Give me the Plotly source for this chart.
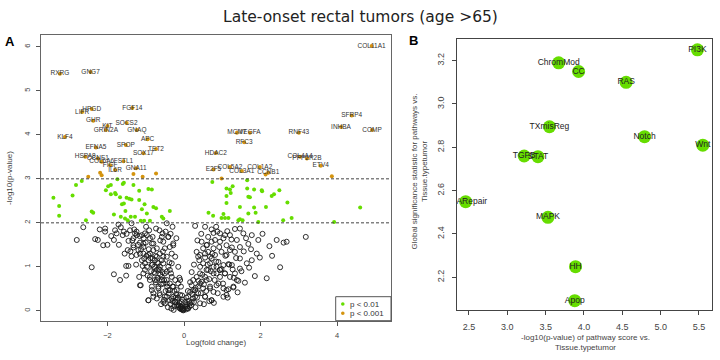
import plotly.graph_objects as go

# ---------------- Panel A data (volcano) ----------------
# labelled genes, p < 0.001 (orange)
gene_names = ["RXRG", "GNG7", "HPGD", "LIFR", "FGF14", "GHR", "KIT", "SOCS2", "GRIN2A", "GNAQ",
              "KLF4", "APC", "EFNA5", "SPOP", "TET2", "SOX17", "HSPA8", "CCNE1", "COL6A6", "FSTL1",
              "FIGF", "IL6R", "GNA11",
              "COL11A1", "SFRP4", "INHBA", "COMP", "MCM7", "VEGFA", "RFC3", "RNF43", "HDAC2",
              "COL4A4", "PPP2R2B", "ETV4", "E2F5", "COL5A2", "COL1A2", "COL3A1", "CCNB1"]
gene_fc = [-3.24, -2.44, -2.41, -2.66, -1.35, -2.37, -2.00, -1.50, -2.04, -1.23,
           -3.11, -0.95, -2.30, -1.52, -0.73, -1.06, -2.58, -2.25, -2.15, -1.58,
           -1.93, -1.80, -1.25,
           4.90, 4.38, 4.10, 4.91, 1.38, 1.72, 1.57, 3.00, 0.83,
           3.03, 3.21, 3.57, 0.77, 1.20, 1.98, 1.51, 2.20]
gene_logp = [5.39, 5.43, 4.59, 4.52, 4.61, 4.32, 4.20, 4.27, 4.11, 4.11,
             3.95, 3.90, 3.71, 3.77, 3.68, 3.58, 3.50, 3.46, 3.39, 3.40,
             3.31, 3.20, 3.24,
             6.02, 4.44, 4.18, 4.11, 4.05, 4.05, 3.83, 4.05, 3.59,
             3.50, 3.46, 3.30, 3.21, 3.27, 3.27, 3.18, 3.14]

# unlabelled p < 0.001
orange_fc = [-2.50, -2.19, -2.15, -1.32, -1.08, -0.73, 3.86, 0.98, 2.13]
orange_logp = [3.05, 3.14, 3.08, 3.11, 3.05, 3.12, 3.06, 3.01, 3.10]

# p < 0.01 (green)
green_fc = [-3.41, -3.26, -3.26, -2.91, -2.82, -2.67, -2.56, -2.41, -2.37, -2.04, -1.98, -1.91,
            -1.91, -1.80, -1.78, -1.74, -1.67, -1.60, -1.57, -1.62, -1.57, -1.83, -1.65, -1.53,
            -1.50, -1.43, -1.37, -1.32, -1.54, -1.47, -1.39, -1.28, -1.17, -1.17, -1.13, -1.04,
            -1.10, -1.03, -0.97, -0.93, -0.84, -0.89, -0.80, -0.73, -0.58, -0.54, -0.37,
            0.74, 1.11, 1.11, 1.20, 1.27, 1.22, 1.65, 1.65, 1.83, 2.03, 2.04, 1.68, 1.72, 2.29,
            2.35, 2.49, 2.70, 1.11, 1.46, 1.83, 2.14, 0.64, 0.76, 1.03, 0.98, 1.07, 1.16, 1.42,
            1.46, 1.53, 1.68, 1.87, 1.94, 2.59, 2.81, 3.92, 4.60]
green_logp = [2.57, 2.38, 2.16, 2.62, 2.86, 2.95, 2.06, 2.26, 2.23, 2.74, 2.83, 2.86,
              2.65, 2.68, 2.65, 2.99, 2.58, 2.88, 2.91, 2.42, 2.44, 2.19, 2.14, 2.27,
              2.57, 2.55, 2.53, 2.86, 2.10, 2.06, 2.14, 2.14, 2.52, 2.73, 2.05, 2.05,
              2.31, 2.42, 2.21, 2.77, 2.76, 2.05, 2.36, 2.33, 2.14, 2.10, 2.27,
              2.93, 2.78, 2.61, 2.76, 2.83, 2.68, 2.97, 2.78, 2.76, 2.74, 2.72, 2.59, 2.58, 2.61,
              2.65, 2.74, 2.46, 2.45, 2.36, 2.35, 2.36, 2.23, 2.16, 2.20, 2.11, 2.11, 2.11, 2.06,
              2.08, 2.06, 2.21, 2.23, 2.02, 2.06, 2.11, 2.02, 2.35]

# not significant (open black circles)
bg_fc = [-2.63, -2.80, -2.41, -2.32, -2.25, -2.11, -2.06, -2.06, -1.83, -1.80, -1.76, -1.71,
         -1.83, -1.67, -1.51, -1.45, -1.51, -1.60, -1.57, -1.45, -1.47, -1.41, -1.37, -1.32,
         -1.28, -1.24, -1.19, -1.15, -1.17, -1.13, -1.06, -1.06, -1.04, -0.97, -0.93, -0.97,
         -0.91, -0.89, -0.84, -0.80, -0.82, -0.78, -0.76, -0.71, -0.67, -0.64, -0.71, -0.63,
         -0.58, -0.54, -0.50, -0.45, -0.41, -0.37, -0.32, -0.28, -0.23, -0.30, -0.50, -0.45,
         -0.41, -0.37, -0.32, -0.28, -0.23, -0.19, -0.15, -0.10, -0.06, -0.02, -0.58, -0.54,
         -0.63, -0.84, -0.89, -0.71, -0.80, -0.19, -0.15, -0.23, -0.10, -0.06, -0.28, -0.37,
         -0.45, -0.50, -0.71, -0.67, -0.76, -0.89, -0.93, -1.02, -1.10, -1.24, -1.32, -1.37,
         -0.56, -0.64, -0.73, -0.99, -1.10, -0.82, -0.41, -0.37, -0.45, -0.54, -0.10,
         -1.24, -1.02, -1.32, -1.06, -0.80, -0.58, -0.41, -0.28, -1.15, -0.93, -0.71, -0.54,
         -0.32, -1.02, -0.84, -0.63, -0.45, -1.06, -0.89, -0.76, -0.58, -0.45, -0.37, -0.67,
         -0.84, -0.80, -0.63, -0.50, -0.32, -0.23, -0.15, -0.10, -0.02, -0.93, -0.54, -1.15,
         -0.35, -0.30, -0.26, -0.22, -0.18, -0.12, -0.08, -0.04, -0.40, -0.44, -0.48, -0.52,
         -0.56, -0.60, -0.62, -0.66, -0.68, -0.70, -0.74, -0.75, -0.78, -0.82, -0.86, -0.88,
         -0.92, -0.95, -0.98, -1.00, -1.05, -1.08, -1.12, -1.16, -1.20, -1.25, -1.30, -1.35,
         -1.40, -1.50, -1.55, -1.65, -1.70, -1.90, -2.00, -2.20, -0.38, -0.34, -0.30, -0.25,
         -0.20, -0.16, -0.52, -0.60, -0.42, -0.33, -0.27, -0.55, -0.62, -0.48, -0.35, -0.20,
         -0.15, -0.12, -0.08, -0.05, -0.03,
         0.29, 0.55, 0.72, 0.84, 0.87, 0.77, 1.13, 1.33, 1.46, 1.77, 1.94, 1.68,
         1.62, 2.42, 2.68, 3.18, 2.23, 1.98, 1.46, 1.20, 1.25, 0.98, 0.77, 0.46,
         0.50, 0.63, 0.37, 0.55, 0.72, 0.90, 1.03, 1.16, 1.27, 2.51, 1.85, 2.16,
         1.59, 1.42, 1.29, 1.11, 1.16, 1.03, 0.94, 0.77, 0.59, 0.42, 0.33, 0.24,
         0.20, 0.42, 0.59, 0.68, 0.77, 0.72, 0.55, 0.37, 0.24, 0.16, 0.07, -0.02,
         0.42, 0.29, 0.50, 0.85, 0.94, 1.07, 0.85, 0.68, 0.50, 1.33, 1.20, 1.64,
         1.46, 1.77, 1.33, 1.11, 1.03, 0.94, 0.72, 0.63, 1.46, 1.38, 1.55, 1.07,
         0.81, 0.55, 0.33, 0.16, 0.11, 0.03,
         0.11, 0.20, 0.29, 0.24, 0.37, 0.46, 0.55, 0.42, 0.63, 0.77, 0.85, 0.94,
         1.07, 0.68, 0.42, 0.59, 0.81, 0.94, 1.20, 1.11, 1.25, 1.38, 0.90, 0.68,
         0.55, 0.72, 1.11, 1.03, 1.29, 0.05, 0.09, 0.14, -0.05, -0.08, -0.12,
         0.04, 0.08, 0.12, 0.18, 0.22, 0.26, 0.30, 0.34, 0.38, 0.44, 0.48, 0.52,
         0.58, 0.62, 0.66, 0.70, 0.74, 0.80, 0.84, 0.88, 0.92, 0.98, 1.02, 1.08,
         1.14, 1.18, 1.24, 1.30, 1.36, 1.40, 1.50, 1.56, 1.70, 1.75, 1.90, 2.05,
         2.30, 2.60, 0.26, 0.20, 0.16, 0.10, 0.06, 0.35, 0.45, 0.60, 0.40, 0.52,
         0.30, 0.66, 0.78]
bg_logp = [1.90, 1.61, 0.99, 1.63, 1.61, 1.49, 1.80, 1.87, 1.61, 1.83, 1.76, 1.96,
           0.83, 0.70, 1.02, 1.02, 0.80, 1.72, 1.80, 1.59, 1.38, 1.83, 1.99, 1.44,
           1.76, 1.80, 1.38, 1.55, 0.77, 0.58, 1.53, 1.30, 1.19, 1.00, 0.24, 1.72,
           1.83, 1.65, 1.53, 1.38, 1.19, 1.00, 0.85, 0.70, 0.55, 0.40, 1.42, 1.30,
           1.15, 1.57, 1.42, 1.99, 1.00, 0.93, 1.30, 1.53, 1.23, 1.91, 0.17, 0.32,
           0.47, 0.62, 0.77, 0.32, 0.20, 0.13, 0.09, 0.05, 0.03, 0.01, 0.77, 0.62,
           0.93, 0.47, 0.70, 0.28, 0.32, 0.47, 0.62, 0.70, 0.36, 0.20, 0.55, 0.24,
           0.70, 0.85, 0.93, 1.08, 1.15, 1.30, 1.15, 0.93, 1.15, 1.27, 1.65, 1.24,
           1.76, 1.83, 1.87, 1.91, 1.72, 1.68, 1.68, 1.45, 1.23, 1.08, 0.70,
           1.72, 1.76, 1.49, 1.45, 1.53, 1.68, 1.68, 1.49, 1.30, 1.27, 1.23, 1.23,
           1.08, 1.08, 1.04, 1.00, 0.89, 0.85, 0.77, 0.70, 0.70, 0.62, 0.47, 0.51,
           0.55, 0.40, 0.36, 0.32, 0.28, 0.20, 0.13, 0.05, 0.02, 0.24, 0.20, 0.58,
           0.15, 0.22, 0.10, 0.30, 0.25, 0.18, 0.10, 0.06, 0.40, 0.55, 0.45, 0.70,
           0.88, 0.60, 0.82, 0.95, 0.75, 1.10, 0.65, 1.25, 0.88, 1.05, 0.90, 1.20,
           1.40, 0.80, 1.25, 1.55, 1.65, 1.02, 1.40, 1.70, 1.50, 1.05, 1.85, 1.60,
           1.35, 1.75, 1.30, 1.90, 1.50, 1.70, 1.50, 1.85, 1.10, 0.85, 0.55, 0.45,
           0.38, 0.30, 0.25, 0.15, 0.08, 0.05, 0.02, 1.35, 1.60, 1.80, 1.75, 1.65,
           1.00, 0.75, 0.55, 0.35, 0.25,
           1.93, 1.91, 1.85, 1.91, 1.80, 1.77, 1.81, 1.86, 1.87, 1.72, 1.61, 1.52,
           1.65, 1.61, 1.57, 1.68, 1.47, 1.21, 1.19, 1.38, 1.44, 1.34, 1.42, 1.57,
           1.42, 1.34, 1.23, 1.21, 1.19, 1.11, 1.04, 1.06, 0.94, 0.99, 0.79, 0.74,
           0.64, 0.68, 0.53, 0.36, 0.49, 0.51, 0.77, 0.85, 0.93, 1.00, 0.77, 0.70,
           0.58, 0.62, 0.70, 0.55, 0.43, 0.24, 0.32, 0.40, 0.28, 0.17, 0.09, 0.05,
           0.17, 0.47, 0.51, 0.58, 0.93, 0.85, 1.00, 1.08, 1.08, 0.85, 0.77, 1.08,
           0.96, 1.15, 1.34, 1.49, 1.65, 1.57, 1.57, 1.68, 1.45, 1.61, 1.76, 1.72,
           1.27, 1.30, 1.34, 0.43, 0.32, 0.20,
           0.05, 0.20, 0.32, 0.47, 0.55, 0.66, 0.77, 0.85, 0.93, 1.00, 0.85, 0.93,
           0.85, 1.23, 1.27, 1.49, 1.61, 1.76, 1.72, 1.27, 1.04, 0.70, 0.62, 0.51,
           0.32, 0.24, 0.47, 0.32, 0.55, 0.03, 0.06, 0.10, 0.04, 0.08, 0.12,
           0.10, 0.15, 0.22, 0.12, 0.38, 0.20, 0.52, 0.30, 0.68, 0.40, 0.82, 0.60,
           0.45, 1.05, 0.72, 0.90, 1.30, 0.70, 1.12, 0.40, 1.45, 0.95, 0.62, 1.25,
           0.30, 1.05, 1.62, 0.75, 1.20, 0.42, 0.90, 1.35, 0.98, 1.40, 1.30, 1.75,
           1.25, 1.55, 1.05, 0.88, 0.65, 0.45, 0.30, 1.60, 1.75, 1.50, 1.15, 0.15,
           0.08, 0.22, 0.18]

# ---------------- Panel B data (pathways) ----------------
pathways = ["ChromMod", "CC", "RAS", "PI3K", "TXmisReg", "Notch", "Wnt", "TGFB", "STAT",
            "DNARepair", "MAPK", "HH", "Apop"]
path_score = [3.67, 3.93, 4.55, 5.48, 3.55, 4.79, 5.55, 3.22, 3.40, 2.457, 3.53, 3.89, 3.88]
path_global = [3.19, 3.15, 3.10, 3.25, 2.895, 2.849, 2.81, 2.76, 2.757, 2.549, 2.477, 2.249, 2.092]

xticks_a = [-2, 0, 2, 4]
yticks_a = [0, 1, 2, 3, 4, 5, 6]
xticks_b = [2.5, 3.0, 3.5, 4.0, 4.5, 5.0, 5.5]
yticks_b = [2.2, 2.4, 2.6, 2.8, 3.0, 3.2]

GREEN = "#66DD00"
ORANGE = "#D4940F"
W, H = 720, 360


def px(x):
    return x / W


def py(y):
    return 1 - y / H


fig = go.Figure()

fig.add_trace(go.Scatter(x=bg_fc, y=bg_logp, mode="markers", xaxis="x", yaxis="y",
                         marker=dict(symbol="circle-open", size=5, color="#1a1a1a",
                                     line=dict(width=0.9, color="#1a1a1a")),
                         showlegend=False, hoverinfo="skip"))
fig.add_trace(go.Scatter(x=green_fc, y=green_logp, mode="markers", xaxis="x", yaxis="y",
                         marker=dict(size=4, color=GREEN), showlegend=False))
fig.add_trace(go.Scatter(x=orange_fc, y=orange_logp, mode="markers", xaxis="x", yaxis="y",
                         marker=dict(size=4, color=ORANGE), showlegend=False))
fig.add_trace(go.Scatter(x=gene_fc, y=gene_logp, mode="markers+text", xaxis="x", yaxis="y",
                         text=gene_names, textposition="middle center",
                         textfont=dict(family="Liberation Sans, Arial", size=6.5, color="#333"),
                         marker=dict(size=4, color=ORANGE), showlegend=False, cliponaxis=True))

fig.add_trace(go.Scatter(x=path_score, y=path_global, mode="markers+text", xaxis="x2", yaxis="y2",
                         text=pathways, textposition="middle center",
                         textfont=dict(family="Liberation Sans, Arial", size=8.5, color="#222"),
                         marker=dict(size=13, color=GREEN), showlegend=False, cliponaxis=True))

tickfont_a = dict(family="Liberation Sans, Arial", size=7.5, color="#444")
tickfont_b = dict(family="Liberation Sans, Arial", size=9, color="#444")

fig.update_layout(
    width=W, height=H, margin=dict(l=0, r=0, t=0, b=0),
    paper_bgcolor="white", plot_bgcolor="white",
    xaxis=dict(domain=[px(41), px(391)], range=[-3.734, 5.405], tickvals=xticks_a,
               ticks="outside", ticklen=4, tickcolor="#555", showline=True, mirror=True,
               linecolor="#666", linewidth=1, showgrid=False, zeroline=False,
               tickfont=tickfont_a, ticklabelstandoff=3),
    yaxis=dict(domain=[py(320.7), py(35)], range=[-0.225, 6.27], tickvals=yticks_a,
               ticks="outside", ticklen=4, tickcolor="#555", showline=True, mirror=True,
               linecolor="#666", linewidth=1, showgrid=False, zeroline=False,
               tickangle=-90, tickfont=tickfont_a, ticklabelstandoff=3),
    xaxis2=dict(domain=[px(457), px(712)], range=[2.344, 5.67], tickvals=xticks_b,
                ticktext=[f"{v:.1f}" for v in xticks_b], anchor="y2",
                ticks="outside", ticklen=4, tickcolor="#444", showline=True, mirror=True,
                linecolor="#444", linewidth=1.2, showgrid=False, zeroline=False,
                tickfont=tickfont_b, ticklabelstandoff=4),
    yaxis2=dict(domain=[py(310), py(39)], range=[2.049, 3.30], tickvals=yticks_b,
                ticktext=[f"{v:.1f}" for v in yticks_b], anchor="x2",
                ticks="outside", ticklen=4, tickcolor="#444", showline=True, mirror=True,
                linecolor="#444", linewidth=1.2, showgrid=False, zeroline=False,
                tickangle=-90, tickfont=tickfont_b, ticklabelstandoff=4),
)

# dashed threshold lines
for yv in [2, 3]:
    fig.add_shape(type="line", xref="x domain", yref="y", x0=0, x1=1, y0=yv, y1=yv,
                  line=dict(color="#444", width=1, dash="3px,2px"))

# legend box (panel A, bottom-right)
fig.add_shape(type="rect", xref="paper", yref="paper", x0=px(335.7), x1=px(391),
              y0=py(320.7), y1=py(296.7), line=dict(color="#555", width=1), fillcolor="white")
for yy, col in [(304, GREEN), (313.3, ORANGE)]:
    fig.add_shape(type="circle", xref="paper", yref="paper", x0=px(341), x1=px(344.6),
                  y0=py(yy + 1.8), y1=py(yy - 1.8), line=dict(width=0), fillcolor=col)

annots = [
    dict(text="p < 0.01", x=px(347.5), y=py(304), xanchor="left", yanchor="middle",
         font=dict(family="Liberation Sans, Arial", size=8, color="#333")),
    dict(text="p < 0.001", x=px(347.5), y=py(313.3), xanchor="left", yanchor="middle",
         font=dict(family="Liberation Sans, Arial", size=8, color="#333")),
    dict(text="Late-onset rectal tumors (age >65)", x=0.5, y=py(17), xanchor="center",
         yanchor="middle", font=dict(family="DejaVu Sans", size=15.5, color="#222")),
    dict(text="<b>A</b>", x=px(3), y=py(41), xanchor="left", yanchor="middle",
         font=dict(family="Liberation Sans, Arial", size=13, color="#000")),
    dict(text="<b>B</b>", x=px(407), y=py(40), xanchor="left", yanchor="middle",
         font=dict(family="Liberation Sans, Arial", size=13, color="#000")),
    dict(text="-log10(p-value)", x=px(9), y=py(178), textangle=-90, xanchor="center",
         yanchor="middle", font=dict(family="Liberation Sans, Arial", size=8, color="#444")),
    dict(text="Log(fold change)", x=px(216), y=py(342), xanchor="center", yanchor="middle",
         font=dict(family="Liberation Sans, Arial", size=8, color="#444")),
    dict(text="Global significance statistic for pathways vs.<br>Tissue.typetumor",
         x=px(418.5), y=py(172), textangle=-90, xanchor="center", yanchor="middle",
         font=dict(family="Liberation Sans, Arial", size=8, color="#444")),
    dict(text="-log10(p-value) of pathway score vs.<br>Tissue.typetumor",
         x=px(585), y=py(342.3), xanchor="center", yanchor="middle",
         font=dict(family="Liberation Sans, Arial", size=8, color="#444")),
]
for a in annots:
    a.update(xref="paper", yref="paper", showarrow=False)
    fig.add_annotation(**a)

fig.write_html("out.html", config={"displayModeBar": False})

# remove the browser's default body margin so the 720x360 figure fills the window
with open("out.html", encoding="utf-8") as f:
    html = f.read()
html = html.replace("<head>", "<head><style>html,body{margin:0;padding:0;overflow:hidden;}</style>", 1)
with open("out.html", "w", encoding="utf-8") as f:
    f.write(html)
